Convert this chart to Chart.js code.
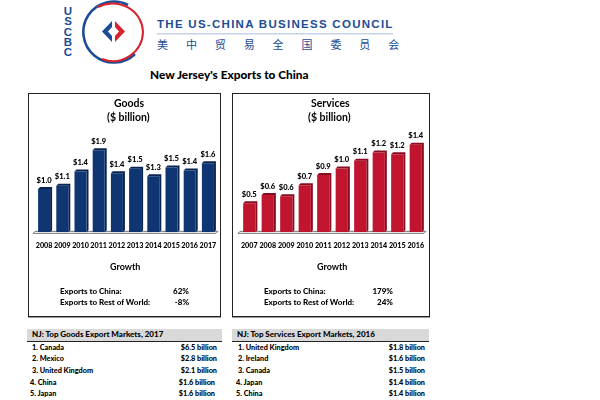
<!DOCTYPE html>
<html>
<head>
<meta charset="utf-8">
<script src="https://cdn.jsdelivr.net/npm/chart.js@4"></script>
<style>
html, body { margin: 0; padding: 0; background: #fff; overflow: hidden; }
body { width: 600px; height: 400px; position: relative; font-family: Lato, sans-serif; color: #000; }
.t { position: absolute; white-space: nowrap; font-weight: 900; }
.panel { position: absolute; top: 93px; width: 191px; height: 222px; border: 1px solid #222; box-shadow: 0 1px 0 #999; }
.panel canvas { position: absolute; left: 0; top: 0; }
.band { position: absolute; top: 329px; height: 12px; background: #d9d9d9; border-bottom: 1px solid #222; }
</style>
</head>
<body>
<svg style="position:absolute;left:0;top:0" width="600" height="66">
  <path d="M 128 5 A 30.5 30.5 0 1 0 135 54" fill="none" stroke="#1c4c96" stroke-width="2.6"/>
  <path d="M 98 7 A 30.5 29 0 0 1 143 32 A 30 30 0 0 1 102 59" fill="none" stroke="#d8232f" stroke-width="2"/>
  <path d="M 112 21 L 102 31.5 L 112 42 L 112 36 L 108 31.5 L 112 27 Z" fill="#1c4c96"/>
  <path d="M 115 21 L 125 31.5 L 115 42 L 115 36 L 119 31.5 L 115 27 Z" fill="#d8232f"/>
  <rect x="157" y="33" width="236" height="1.5" fill="#c5d3e8"/>
</svg>
<div class="t" style="left:62px;top:6px;width:12px;font-size:11.5px;line-height:10.3px;color:#1c4c96;text-align:center;white-space:normal;font-family:'Liberation Sans',sans-serif;font-weight:bold">U S C B C</div>
<div class="t" style="left:157px;top:18px;font-size:11.5px;letter-spacing:1.28px;color:#1c4c96;font-family:'Liberation Sans',sans-serif;font-weight:bold">THE US-CHINA BUSINESS COUNCIL</div>
<div class="t" style="left:157px;top:37px;font-size:11px;font-weight:normal;letter-spacing:17.9px;color:#1c4c96;font-family:'Noto Sans CJK SC',sans-serif;line-height:14px">美中贸易全国委员会</div>
<div class="t" style="left:150px;top:67px;font-size:11.8px">New Jersey's Exports to China</div>

<div class="panel" style="left:28px"><canvas id="goodsChart" width="191" height="222"></canvas></div>
<div class="panel" style="left:232px;width:196px"><canvas id="servicesChart" width="196" height="222"></canvas></div>

<div id="extras"></div>

<script>
var goodsYears = ['2008', '2009', '2010', '2011', '2012', '2013', '2014', '2015', '2016', '2017'];
var goodsValues = [1.0, 1.08, 1.41, 1.9, 1.37, 1.47, 1.3, 1.5, 1.43, 1.6];
var servicesYears = ['2007', '2008', '2009', '2010', '2011', '2012', '2013', '2014', '2015', '2016'];
var servicesValues = [0.45, 0.58, 0.56, 0.73, 0.89, 0.99, 1.11, 1.24, 1.21, 1.36];

var goodsGrowth = ['62%', '-8%'];
var servicesGrowth = ['179%', '24%'];
var growthLabels = ['Exports to China:', 'Exports to Rest of World:'];

var goodsMarkets = ['1. Canada', '2. Mexico', '3. United Kingdom', '4. China', '5. Japan'];
var goodsMarketValues = ['$6.5 billion', '$2.8 billion', '$2.1 billion', '$1.6 billion', '$1.6 billion'];
var servicesMarkets = ['1. United Kingdom', '2. Ireland', '3. Canada', '4. Japan', '5. China'];
var servicesMarketValues = ['$1.8 billion', '$1.6 billion', '$1.5 billion', '$1.4 billion', '$1.4 billion'];

// the fake 3D look: side and top faces behind each bar, plus the floor
var depth = 2;
var bars3d = {
    id: 'bars3d',
    beforeDatasetsDraw: function (chart) {
        var ctx = chart.ctx;
        var area = chart.chartArea;
        var base = chart.scales.y.getPixelForValue(0);
        var side = chart.options.plugins.bars3d.side;
        ctx.save();
        ctx.strokeStyle = '#777';
        ctx.lineWidth = 1;
        ctx.beginPath();
        ctx.moveTo(area.left - 2, base + 1);
        ctx.lineTo(area.left, base - 1);
        ctx.lineTo(area.right + 1, base - 1);
        ctx.moveTo(area.left - 2, base + 1);
        ctx.lineTo(area.right - 1, base + 1);
        ctx.lineTo(area.right + 1, base - 1);
        ctx.stroke();
        chart.getDatasetMeta(0).data.forEach(function (bar) {
            var right = bar.x + bar.width / 2;
            var left = bar.x - bar.width / 2;
            ctx.fillStyle = side;
            ctx.beginPath();
            ctx.moveTo(left, bar.y);
            ctx.lineTo(left + depth, bar.y - depth);
            ctx.lineTo(right + depth, bar.y - depth);
            ctx.lineTo(right + depth, base - depth);
            ctx.lineTo(right, base);
            ctx.lineTo(right, bar.y);
            ctx.closePath();
            ctx.fill();
        });
        ctx.restore();
    },
    afterDatasetsDraw: function (chart) {
        var ctx = chart.ctx;
        ctx.save();
        ctx.fillStyle = '#000';
        ctx.font = '900 7.6px Lato';
        ctx.textAlign = 'center';
        ctx.textBaseline = 'bottom';
        chart.getDatasetMeta(0).data.forEach(function (bar, i) {
            var value = chart.data.datasets[0].data[i];
            ctx.fillText('$' + value.toFixed(1), bar.x, bar.y - 5);
        });
        ctx.restore();
    }
};

function makeChart(id, years, values, color, side, yMax, padLeft, padRight) {
    return new Chart(document.getElementById(id).getContext('2d'), {
        type: 'bar',
        data: {
            labels: years,
            datasets: [{
                data: values,
                backgroundColor: color,
                barPercentage: 0.66,
                categoryPercentage: 1
            }]
        },
        options: {
            responsive: false,
            animation: false,
            layout: { padding: { left: padLeft, right: padRight, top: 32, bottom: 65 } },
            plugins: {
                legend: { display: false },
                tooltip: { enabled: false },
                title: { display: false },
                bars3d: { side: side }
            },
            scales: {
                x: {
                    grid: { display: false },
                    border: { display: false },
                    ticks: {
                        color: '#000',
                        font: { family: 'Lato', size: 7.2, weight: '900' },
                        maxRotation: 0,
                        autoSkip: false,
                        padding: 1
                    }
                },
                y: { display: false, min: 0, max: yMax }
            }
        },
        plugins: [bars3d]
    });
}

var goodsChart = makeChart('goodsChart', goodsYears, goodsValues, '#0f3572', '#0a2450', 2.46, 6, 3);
var servicesChart = makeChart('servicesChart', servicesYears, servicesValues, '#c0142f', '#860e20', 1.65, 7, 4);

// text blocks around the charts
var extras = document.getElementById('extras');
function addText(text, left, top, size, right, weight) {
    var d = document.createElement('div');
    d.className = 't';
    d.textContent = text;
    d.style.top = top + 'px';
    d.style.fontSize = size + 'px';
    if (weight) {
        d.style.fontWeight = weight;
    }
    if (right) {
        d.style.right = (600 - left) + 'px';
    } else {
        d.style.left = left + 'px';
    }
    extras.appendChild(d);
}
function addBand(left, width) {
    var d = document.createElement('div');
    d.className = 'band';
    d.style.left = left + 'px';
    d.style.width = width + 'px';
    extras.appendChild(d);
}

var growthTops = [285.5, 296.5];
var rowTops = [343, 354, 365.5, 377.5, 388.5];
var rowOffsets = [2, 2, 2, 0, 0];

addText('Goods', 114, 97, 10.5, false, 'bold');
addText('($ billion)', 107, 111, 10.5, false, 'bold');
addText('Services', 311, 97, 10.5, false, 'bold');
addText('($ billion)', 308, 111, 10.5, false, 'bold');

addText('Growth', 110, 261, 9, false, 'bold');
addText('Growth', 317, 261, 9, false, 'bold');
growthLabels.forEach(function (label, i) {
    addText(label, 60, growthTops[i], 8);
    addText(goodsGrowth[i], 189, growthTops[i], 8, true);
    addText(label, 264, growthTops[i], 8);
    addText(servicesGrowth[i], 393, growthTops[i], 8, true);
});

addBand(27, 195);
addBand(232, 197);
addText('NJ: Top Goods Export Markets, 2017', 32, 329, 8);
addText('NJ: Top Services Export Markets, 2016', 237, 329, 8);
goodsMarkets.forEach(function (name, i) {
    addText(name, 30 + rowOffsets[i], rowTops[i], 7.3);
    addText(goodsMarketValues[i], 215 + rowOffsets[i], rowTops[i], 7.3, true);
    addText(servicesMarkets[i], 236 + rowOffsets[i], rowTops[i], 7.3);
    addText(servicesMarketValues[i], 425, rowTops[i], 7.3, true);
});
</script>
</body>
</html>
